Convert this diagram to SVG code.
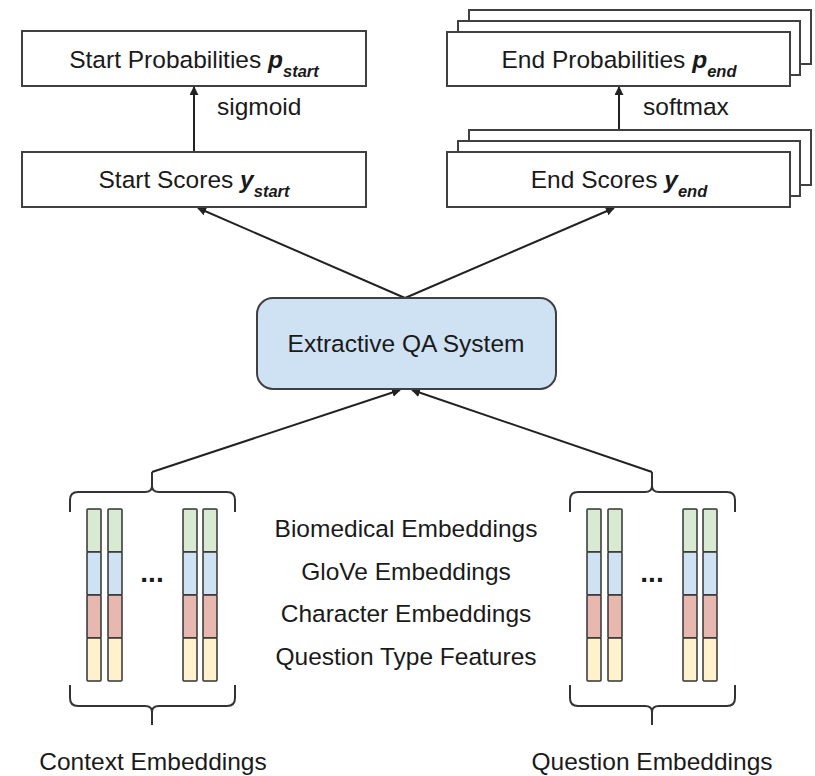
<svg xmlns="http://www.w3.org/2000/svg" width="815" height="776" viewBox="0 0 815 776">
<defs>
<style>
text{font-family:"Liberation Sans",Arial,sans-serif;font-size:24.5px;fill:#1a1a1a}
.box{fill:#fff;stroke:#404040;stroke-width:2}
.qa{fill:#cfe2f3;stroke:#404040;stroke-width:2}
.c{stroke:#222;stroke-width:2;fill:none}
.br{stroke:#333;stroke-width:2;fill:none}
.bi{font-weight:bold;font-style:italic}
.sub{font-weight:bold;font-style:italic;font-size:16.5px}
.dots{font-size:28px;font-weight:bold}
.g{fill:#d9ead3;stroke:#333;stroke-width:1.5}
.b{fill:#cfe2f3;stroke:#333;stroke-width:1.5}
.r{fill:#e6b8af;stroke:#333;stroke-width:1.5}
.y{fill:#fff2cc;stroke:#333;stroke-width:1.5}
</style>
<marker id="ah" viewBox="0 0 10 10" refX="9" refY="5" markerWidth="4.5" markerHeight="4.5" orient="auto" markerUnits="strokeWidth">
<path d="M0,0 L10,5 L0,10 z" fill="#222"/>
</marker>
<g id="col">
<rect class="g" x="0" y="0" width="14" height="43" rx="1"/>
<rect class="b" x="0" y="43" width="14" height="43" rx="1"/>
<rect class="r" x="0" y="86" width="14" height="43" rx="1"/>
<rect class="y" x="0" y="129" width="14" height="43" rx="1"/>
</g>
<g id="bracket">
<path class="br" d="M0,20 V8 Q0,0 8,0 H75 Q82,0 82,-6 V-20 M82,-6 Q82,0 89,0 H157 Q165,0 165,8 V20"/>
<use href="#col" x="17" y="17"/>
<use href="#col" x="38" y="17"/>
<use href="#col" x="113" y="17"/>
<use href="#col" x="133" y="17"/>
<text class="dots" x="82" y="90" text-anchor="middle">...</text>
<path class="br" d="M0,193 V206 Q0,214 8,214 H75 Q82,214 82,220 V233 M82,220 Q82,214 89,214 H157 Q165,214 165,206 V193"/>
</g>
</defs>

<g id="connectors">
<line class="c" x1="194" y1="152" x2="194" y2="87" marker-end="url(#ah)"/>
<line class="c" x1="619" y1="152" x2="619" y2="87" marker-end="url(#ah)"/>
<line class="c" x1="405" y1="298" x2="198" y2="208" marker-end="url(#ah)"/>
<line class="c" x1="405" y1="298" x2="614" y2="208" marker-end="url(#ah)"/>
<line class="c" x1="152" y1="472" x2="400" y2="390" marker-end="url(#ah)"/>
<line class="c" x1="652" y1="472" x2="412" y2="390" marker-end="url(#ah)"/>
<text x="217" y="115">sigmoid</text>
<text x="643" y="115">softmax</text>
</g>

<g id="start-prob">
<rect class="box" x="22" y="31" width="344" height="55"/>
<text x="194" y="68" text-anchor="middle">Start Probabilities <tspan class="bi">p</tspan><tspan class="sub" dy="9">start</tspan></text>
</g>
<g id="start-scores">
<rect class="box" x="22" y="152" width="344" height="55"/>
<text x="194" y="188" text-anchor="middle">Start Scores <tspan class="bi">y</tspan><tspan class="sub" dy="9">start</tspan></text>
</g>
<g id="end-prob">
<rect class="box" x="469" y="10" width="342" height="54"/>
<rect class="box" x="458" y="21" width="342" height="54"/>
<rect class="box" x="447" y="32" width="343" height="54"/>
<text x="619" y="68" text-anchor="middle">End Probabilities <tspan class="bi">p</tspan><tspan class="sub" dy="9">end</tspan></text>
</g>
<g id="end-scores">
<rect class="box" x="469" y="130" width="342" height="55"/>
<rect class="box" x="458" y="141" width="342" height="55"/>
<rect class="box" x="447" y="152" width="343" height="55"/>
<text x="619" y="188" text-anchor="middle">End Scores <tspan class="bi">y</tspan><tspan class="sub" dy="9">end</tspan></text>
</g>
<g id="qa-system">
<rect class="qa" x="257" y="298" width="299" height="91" rx="16"/>
<text x="406" y="352" text-anchor="middle">Extractive QA System</text>
</g>
<g id="context-embeddings">
<use href="#bracket" x="70" y="492"/>
<text x="153" y="770" text-anchor="middle">Context Embeddings</text>
</g>
<g id="question-embeddings">
<use href="#bracket" x="570" y="492"/>
<text x="652" y="770" text-anchor="middle">Question Embeddings</text>
</g>
<g id="feature-labels">
<text x="406" y="537" text-anchor="middle">Biomedical Embeddings</text>
<text x="406" y="580" text-anchor="middle">GloVe Embeddings</text>
<text x="406" y="622" text-anchor="middle">Character Embeddings</text>
<text x="406" y="665" text-anchor="middle">Question Type Features</text>
</g>
</svg>
